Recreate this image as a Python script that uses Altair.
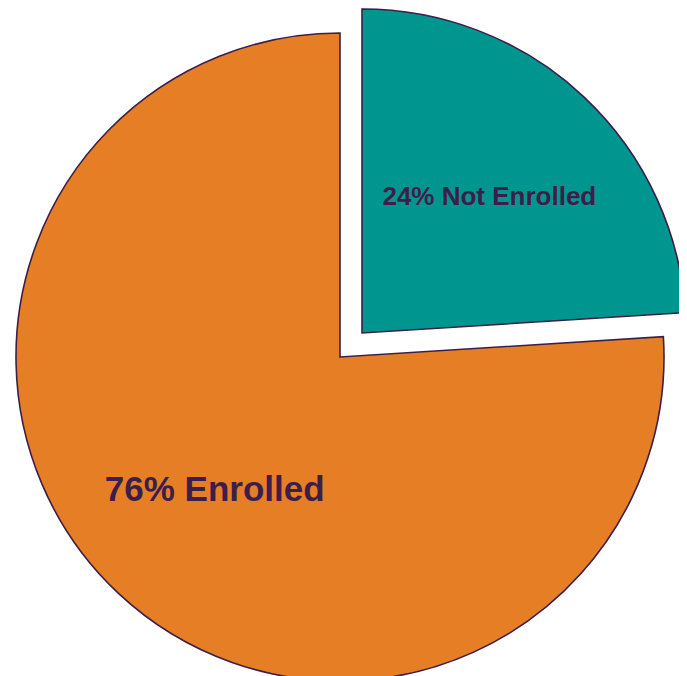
import altair as alt
import pandas as pd

categories = ["Not Enrolled", "Enrolled"]
values = [24, 76]
labels = ["24% Not Enrolled", "76% Enrolled"]
order = [0, 1]

df = pd.DataFrame({"category": categories, "value": values, "label": labels, "order": order})

TEAL = "#009690"
ORANGE = "#E67E25"
DARK = "#3C1E4B"
R = 324
theta_scale = alt.Scale(domain=[0, 100], range=[0, 6.283185307179586])

base = alt.Chart(df).transform_window(
    end="sum(value)", sort=[alt.SortField("order")], frame=[None, 0]
).transform_calculate(
    start="datum.end - datum.value",
    mid="datum.end - datum.value / 2",
)

centers = {"Enrolled": (332, 349), "Not Enrolled": (354, 325)}
fills = {"Enrolled": ORANGE, "Not Enrolled": TEAL}
label_sizes = {"Enrolled": 35, "Not Enrolled": 26}
label_radius = {"Enrolled": 183, "Not Enrolled": 186}

layers = []
for cat in ["Enrolled", "Not Enrolled"]:
    cx, cy = centers[cat]
    sub = base.transform_filter(alt.datum.category == cat)
    arc = sub.mark_arc(
        radius=R, fill=fills[cat], stroke=DARK, strokeWidth=1.6
    ).encode(
        theta=alt.Theta("start:Q", scale=theta_scale),
        theta2="end:Q",
        x=alt.value(cx),
        y=alt.value(cy),
    )
    layers.append(arc)
for cat in ["Enrolled", "Not Enrolled"]:
    cx, cy = centers[cat]
    sub = base.transform_filter(alt.datum.category == cat)
    txt = sub.mark_text(
        radius=label_radius[cat], font="Liberation Sans", fontWeight="bold",
        fontSize=label_sizes[cat], color=DARK, align="center", baseline="middle",
    ).encode(
        theta=alt.Theta("mid:Q", scale=theta_scale),
        text="label:N",
        x=alt.value(cx),
        y=alt.value(cy),
    )
    layers.append(txt)

chart = alt.layer(*layers).properties(
    width=671, height=668, padding=0, autosize=alt.AutoSizeParams(type="none")
).configure_view(stroke=None)

chart.save("out.html", embed_options={"renderer": "svg", "actions": False})
